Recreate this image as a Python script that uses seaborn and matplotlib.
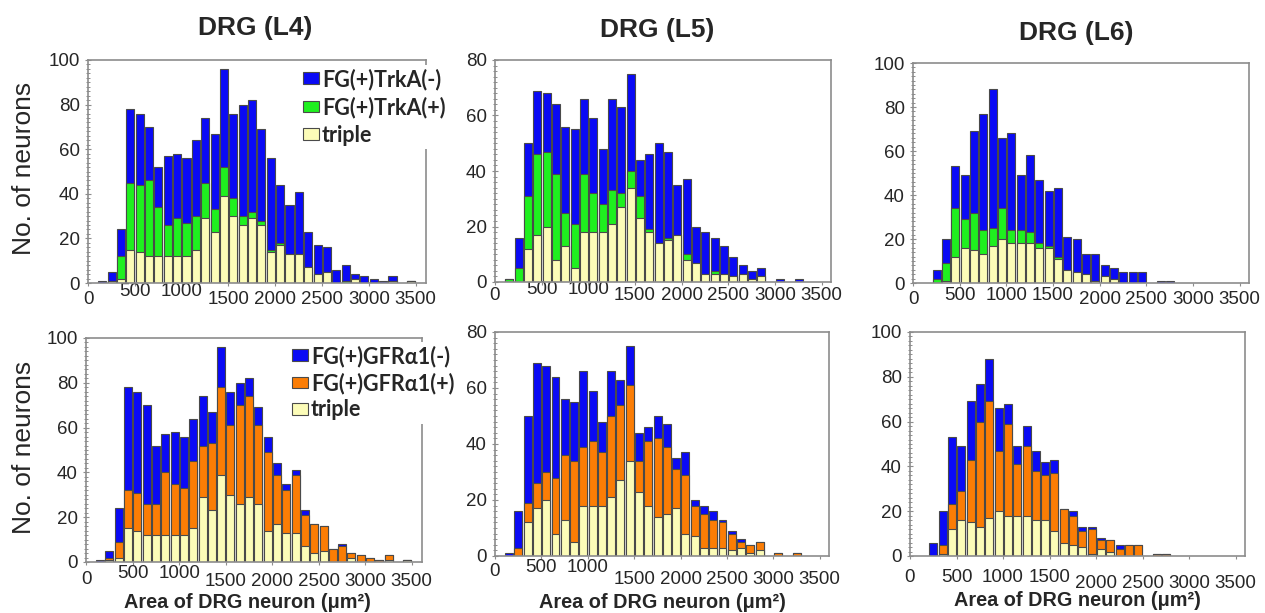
import numpy as np
import matplotlib

matplotlib.use("Agg")
import matplotlib.pyplot as plt
import seaborn as sns
from matplotlib.patches import Patch
from matplotlib.ticker import MultipleLocator, FixedLocator

W, H = 1265, 613

# histogram bins (lower edge, um^2), 100 um^2 wide
area_bins = list(range(100, 3500, 100))
x_ticks = [0, 500, 1000, 1500, 2000, 2500, 3000, 3500]

# ---- DRG L4 ----
l4_total = [1, 5, 24, 78, 76, 70, 52, 57, 58, 56,
            64, 74, 67, 96, 76, 80, 82, 69, 56, 44,
            35, 41, 23, 17, 16, 6, 8, 4, 3, 2,
            1, 3, 0, 1]
l4_trka = [0, 1, 12, 45, 44, 46, 34, 26, 29, 27,
           30, 45, 33, 52, 38, 30, 32, 28, 15, 18,
           13, 13, 7, 4, 5, 0, 1, 2, 0, 0,
           0, 1, 0, 1]
l4_gfr = [0, 2, 9, 32, 31, 26, 26, 40, 35, 33,
          45, 52, 53, 78, 61, 70, 74, 61, 49, 39,
          32, 39, 21, 17, 16, 6, 7, 4, 3, 2,
          1, 3, 0, 1]
l4_triple = [0, 1, 2, 15, 14, 12, 12, 12, 12, 12,
             15, 29, 23, 39, 30, 26, 29, 26, 14, 17,
             13, 13, 7, 4, 5, 0, 0, 2, 0, 0,
             0, 1, 0, 1]

# ---- DRG L5 ----
l5_total = [1, 16, 50, 69, 68, 64, 56, 55, 66, 59,
            48, 66, 63, 75, 44, 46, 50, 47, 35, 37,
            20, 18, 16, 13, 9, 6, 4, 5, 0, 1,
            0, 1, 0, 0]
l5_trka = [1, 5, 31, 46, 47, 39, 25, 21, 39, 32,
           28, 33, 32, 40, 31, 19, 14, 16, 17, 10,
           7, 3, 4, 3, 2, 3, 1, 2, 0, 0,
           0, 0, 0, 0]
l5_gfr = [0, 3, 19, 26, 30, 28, 36, 34, 39, 41,
          37, 50, 54, 61, 34, 41, 42, 39, 31, 29,
          18, 15, 13, 12, 8, 5, 4, 5, 0, 1,
          0, 1, 0, 0]
l5_triple = [0, 0, 12, 17, 20, 8, 13, 5, 18, 18,
             18, 21, 27, 34, 23, 18, 14, 15, 17, 8,
             7, 3, 3, 3, 2, 3, 1, 2, 0, 0,
             0, 0, 0, 0]

# ---- DRG L6 ----
l6_total = [0, 6, 20, 53, 49, 69, 77, 88, 66, 68,
            49, 58, 47, 42, 43, 21, 20, 13, 13, 8,
            7, 5, 5, 5, 0, 1, 1, 0, 0, 0,
            0, 0, 0, 0]
l6_trka = [0, 2, 9, 34, 29, 32, 24, 25, 34, 24,
           24, 23, 18, 17, 12, 6, 5, 4, 1, 3,
           2, 0, 0, 0, 0, 0, 0, 0, 0, 0,
           0, 0, 0, 0]
l6_gfr = [0, 0, 5, 23, 29, 43, 60, 69, 47, 59,
          41, 49, 38, 36, 37, 21, 18, 11, 12, 7,
          7, 3, 5, 5, 0, 1, 1, 0, 0, 0,
          0, 0, 0, 0]
l6_triple = [0, 0, 1, 12, 16, 15, 13, 17, 20, 18,
             18, 18, 16, 16, 11, 6, 5, 4, 1, 3,
             2, 0, 0, 0, 0, 0, 0, 0, 0, 0,
             0, 0, 0, 0]

trka_labels = ["FG(+)TrkA(-)", "FG(+)TrkA(+)", "triple"]
gfr_labels = ["FG(+)GFR\u03b11(-)", "FG(+)GFR\u03b11(+)", "triple"]
col_titles = ["DRG (L4)", "DRG (L5)", "DRG (L6)"]

COLORS = {
    "total": "#0a0af5",
    "trka": "#1ff01f",
    "gfr": "#fb7d05",
    "triple": "#fcfcb8",
    "edge": "#4a4a4a",
    "spine": "#8c8c8c",
}

sns.set_style("white")
plt.rcParams["font.family"] = ["Liberation Sans", "DejaVu Sans"]


def px_rect(left, top, right, bottom):
    return [left / W, 1 - bottom / H, (right - left) / W, (bottom - top) / H]


def draw_bars(ax, values, color):
    xs = [b + 52 for b, v in zip(area_bins, values) if v > 0]
    ys = [v for v in values if v > 0]
    sns.barplot(x=xs, y=ys, ax=ax, native_scale=True, color=color,
                edgecolor=COLORS["edge"], linewidth=0.8, width=0.86,
                saturation=1, errorbar=None)


def style_panel(ax, ytop, xmax, label_drop):
    ax.set_xlim(0, xmax)
    ax.set_ylim(0, ytop)
    ax.set_xlabel("")
    ax.set_ylabel("")
    ax.xaxis.set_major_locator(FixedLocator(x_ticks))
    ax.set_xticklabels([str(t) for t in x_ticks])
    ax.yaxis.set_major_locator(MultipleLocator(20))
    ax.yaxis.set_minor_locator(MultipleLocator(2))
    for side in ["top", "right", "left", "bottom"]:
        ax.spines[side].set_color(COLORS["spine"])
        ax.spines[side].set_linewidth(1.2)
    ax.tick_params(axis="x", which="major", direction="out", length=2.5,
                   color=COLORS["spine"], labelsize=13.5, bottom=True)
    ax.tick_params(axis="y", which="major", direction="inout", length=5,
                   color=COLORS["spine"], labelsize=13.5, pad=3.5, left=True)
    ax.tick_params(axis="y", which="minor", direction="inout", length=3,
                   width=0.7, color=COLORS["spine"], left=True)
    # tick labels in the original are slightly staggered vertically
    for tick, drop in zip(ax.xaxis.get_major_ticks(), label_drop):
        tick.set_pad((drop - 6.5 - 2.5 * 100 / 72) * 72 / 100)


panels = [
    # rect (px), total, subset, triple, subset colour, ytop, xmax, legend, label drops
    ((88, 60, 426, 283), l4_total, l4_trka, l4_triple, COLORS["trka"], 100, 3610,
     (trka_labels, 300, 65, 0.3), [14, 7, 7, 14, 14, 14, 14, 14]),
    ((495, 60, 831, 282), l5_total, l5_trka, l5_triple, COLORS["trka"], 80, 3600,
     None, [11, 5, 5, 11, 11, 11, 11, 11]),
    ((913, 63, 1249, 283), l6_total, l6_trka, l6_triple, COLORS["trka"], 100, 3600,
     None, [14, 10, 10, 10, 14, 14, 14, 14]),
    ((86, 338, 422, 562), l4_total, l4_gfr, l4_triple, COLORS["gfr"], 100, 3610,
     (gfr_labels, 289, 342, 0.25), [16, 10, 10, 17, 17, 17, 17, 17]),
    ((495, 332, 829, 556), l5_total, l5_gfr, l5_triple, COLORS["gfr"], 80, 3600,
     None, [13, 10, 10, 21, 21, 21, 21, 21]),
    ((910, 332, 1245, 556), l6_total, l6_gfr, l6_triple, COLORS["gfr"], 100, 3600,
     None, [19, 19, 19, 19, 25, 25, 25, 25]),
]

fig = plt.figure(figsize=(W / 100, H / 100), dpi=100)

for rect, total, subset, triple, sub_color, ytop, xmax, legend, drops in panels:
    ax = fig.add_axes(px_rect(*rect))
    draw_bars(ax, total, COLORS["total"])
    draw_bars(ax, subset, sub_color)
    draw_bars(ax, triple, COLORS["triple"])
    style_panel(ax, ytop, xmax, drops)
    if legend is not None:
        labels, lx, ly, spacing = legend
        handles = [
            Patch(facecolor=c, edgecolor=COLORS["edge"], linewidth=0.8)
            for c in (COLORS["total"], sub_color, COLORS["triple"])
        ]
        leg = ax.legend(handles, labels, loc="upper left",
                        bbox_to_anchor=(lx / W, 1 - ly / H),
                        bbox_transform=fig.transFigure,
                        prop={"family": ["Lato", "DejaVu Sans"], "weight": "bold", "size": 15.5},
                        handlelength=0.75, handleheight=0.45, handletextpad=0.12,
                        labelspacing=spacing, borderpad=0.15, borderaxespad=0,
                        frameon=True, fancybox=False, framealpha=1)
        leg.get_frame().set_edgecolor("none")
        leg.get_frame().set_facecolor("white")

# column titles
for title, x, y in zip(col_titles, [255, 657, 1076], [28, 30, 33]):
    fig.text(x / W, 1 - y / H, title, ha="center", va="center",
             fontsize=19, fontweight="bold")

# axis labels
for y in [168, 447]:
    fig.text(24 / W, 1 - y / H, "No. of neurons", rotation=90,
             ha="center", va="center", fontsize=19)
for x, y in [(247, 603), (662, 603), (1077, 601)]:
    fig.text(x / W, 1 - y / H, "Area of DRG neuron (\u03bcm\u00b2)",
             ha="center", va="center", fontsize=14.3, fontweight="bold")

fig.savefig("out.png", dpi=100)
plt.close(fig)
